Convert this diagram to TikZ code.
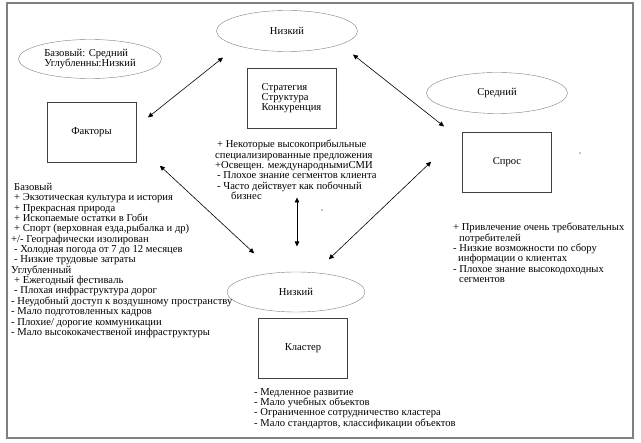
\documentclass[tikz,border=0pt]{standalone}
\usepackage{fontspec}
\setmainfont{Liberation Serif}
\usetikzlibrary{shapes.geometric,arrows.meta,positioning}

\tikzset{
    oval/.style={ellipse, draw=gray, minimum width=141pt, minimum height=41pt, inner sep=0pt, align=left},
    box/.style={rectangle, draw=black!75, minimum width=89pt, minimum height=60pt, inner sep=0pt, align=left},
    notes/.style={anchor=north west, align=left, inner sep=0pt},
    link/.style={{Triangle[length=5pt,width=4.5pt,sep=2.5pt]}-{Triangle[length=5pt,width=4.5pt,sep=2.5pt]}, line width=0.6pt}
}

\begin{document}
\begin{tikzpicture}[x=1pt,y=-1pt,font=\fontsize{10.6}{10.35}\selectfont]
    \useasboundingbox (0,0) rectangle (641,443);
    % Frame
    \draw[gray, line width=1.5pt] (7,3) rectangle (633,438);

    % Levels
    \node[oval, minimum width=143pt, minimum height=39pt] (lvlF) at (90,59) {Базовый: Средний\\Углубленны:Низкий};
    \node[oval] (lvlS) at (287,31) {Низкий};
    \node[oval] (lvlD) at (497,93) {Средний};
    \node[oval, minimum width=138pt, minimum height=40pt] (lvlK) at (296,292) {Низкий};

    % Diamond boxes
    \node[box] (strat) at (291.5,98) {Стратегия\\Структура\\Конкуренция};
    \node[box] (fakt) at (91.5,132) {Факторы};
    \node[box] (spros) at (507,162) {Спрос};
    \node[box] (klast) at (303,348) {Кластер};

    % Notes
    \node[notes] (nFakt) at (11,183) {\hspace*{3pt}Базовый\\
        \hspace*{3pt}+ Экзотическая культура и история\\
        \hspace*{3pt}+ Прекрасная природа\\
        \hspace*{3pt}+ Ископаемые остатки в Гоби\\
        \hspace*{3pt}+ Спорт (верховная езда,рыбалка и др)\\
        +/- Географически изолирован\\
        \hspace*{3pt}- Холодная погода от 7 до 12 месяцев\\
        \hspace*{3pt}- Низкие трудовые затраты\\
        Углубленный\\
        \hspace*{3pt}+ Ежегодный фестиваль\\
        \hspace*{3pt}- Плохая инфраструктура дорог\\
        - Неудобный доступ к воздушному пространству\\
        - Мало подготовленных кадров\\
        - Плохие/ дорогие коммуникации\\
        - Мало высококачественой инфраструктуры};
    \node[notes] (nStrat) at (215,140) {\hspace*{2pt}+ Некоторые высокоприбыльные\\
        специализированные предложения\\
        +Освещен. международнымиСМИ\\
        \hspace*{2pt}- Плохое знание сегментов клиента\\
        \hspace*{2pt}- Часто действует как побочный\\
        \hspace*{16pt}бизнес};
    \node[notes] (nSpros) at (453,223) {+ Привлечение очень требовательных\\
        \hspace*{6pt}потребителей\\
        - Низкие возможности по сбору\\
        \hspace*{5pt}информации о клиентах\\
        - Плохое знание высокодоходных\\
        \hspace*{6pt}сегментов};
    \node[notes] (nKlast) at (254,388) {- Медленное развитие\\
        - Мало учебных объектов\\
        - Ограниченное сотрудничество кластера\\
        - Мало стандартов, классификации объектов};

    % Arrows
    \coordinate (fS1) at (146,119); \coordinate (fS2) at (225,56);
    \coordinate (sD1) at (351,53);  \coordinate (sD2) at (446,128);
    \coordinate (fK1) at (158,164); \coordinate (fK2) at (256,255);
    \coordinate (sK1) at (297,195); \coordinate (sK2) at (297,249);
    \coordinate (dK1) at (433,160); \coordinate (dK2) at (327,261);
    \draw[link] (fS1) -- (fS2);
    \draw[link] (sD1) -- (sD2);
    \draw[link] (fK1) -- (fK2);
    \draw[link] (sK1) -- (sK2);
    \draw[link] (dK1) -- (dK2);

    % Specks
    \fill (322,210) circle (0.6);
    \fill (580,153) circle (0.6);
\end{tikzpicture}
\end{document}
